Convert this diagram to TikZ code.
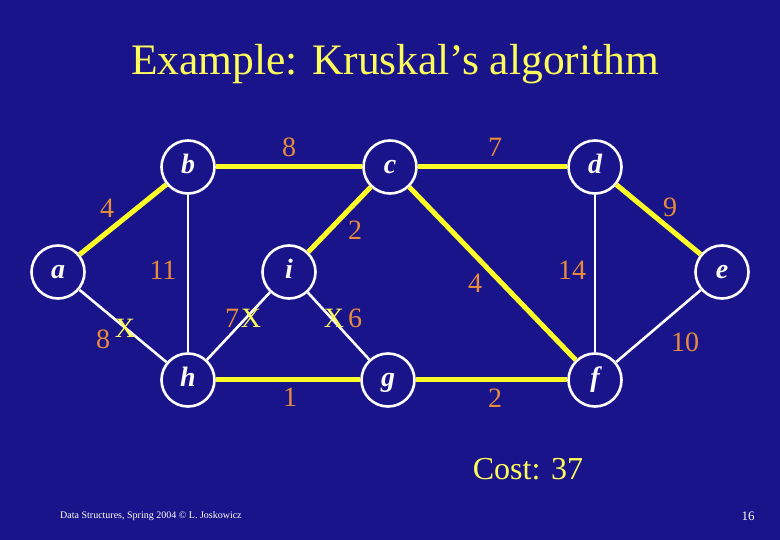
\documentclass[tikz,border=0pt]{standalone}
\usepackage{fontspec}
\setmainfont{Liberation Serif}
\usepackage{tikz}
\definecolor{slidebg}{RGB}{26,20,138}
\definecolor{wtorange}{RGB}{232,140,60}
\definecolor{mstyellow}{RGB}{255,255,40}
\definecolor{txtyellow}{RGB}{255,255,90}

\begin{document}
\begin{tikzpicture}[
    x=1pt, y=-1pt,
    vtx/.style={draw=white, line width=2.6pt, circle, minimum size=53pt, inner sep=0pt, text=white,
        font=\fontsize{28}{28}\selectfont\bfseries\itshape, text height=18pt, text depth=5pt},
    wt/.style={text=wtorange, inner sep=0pt, font=\fontsize{28}{28}\selectfont},
    cross/.style={text=txtyellow, inner sep=0pt, font=\fontsize{28}{28}\selectfont},
    mst/.style={mstyellow, line width=5pt},
    edge/.style={white, line width=2.6pt}
]
% Slide
\fill[slidebg] (0,0) rectangle (780,540);
\useasboundingbox (0,0) rectangle (780,540);
\node[text=txtyellow, font=\fontsize{43.5}{46}\selectfont] (title) at (395,64) {Example: Kruskal's algorithm};

% Vertices
\node[vtx] (a) at (58,272) {a};
\node[vtx] (b) at (188,167) {b};
\node[vtx] (c) at (390,167) {c};
\node[vtx] (d) at (595,167) {d};
\node[vtx] (e) at (722,272) {e};
\node[vtx] (i) at (289,272) {i};
\node[vtx] (h) at (188,380) {h};
\node[vtx] (g) at (388,380) {g};
\node[vtx] (f) at (595,380) {f};

% Tree edges
\draw[mst] (a) -- (b);
\draw[mst] (b) -- (c);
\draw[mst] (c) -- (d);
\draw[mst] (c) -- (i);
\draw[mst] (c) -- (f);
\draw[mst] (d) -- (e);
\draw[mst] (h) -- (g);
\draw[mst] (g) -- (f);

% Other edges
\draw[edge] (a) -- (h);
\draw[edge] (b) -- (h);
\draw[edge] (i) -- (h);
\draw[edge] (i) -- (g);
\draw[edge] (d) -- (f);
\draw[edge] (e) -- (f);

% Weights
\node[wt] (wab) at (107,208) {4};
\node[wt] (wbc) at (289,147) {8};
\node[wt] (wcd) at (495,147) {7};
\node[wt] (wci) at (355,230) {2};
\node[wt] (wbh) at (163,270) {11};
\node[wt] (wah) at (103,339) {8};
\node[cross] (xah) at (125,328) {X};
\node[wt] (whi) at (232,318) {7};
\node[cross] (xhi) at (251,318) {X};
\node[cross] (xig) at (334,318) {X};
\node[wt] (wig) at (355,318) {6};
\node[wt] (whg) at (290,397) {1};
\node[wt] (wde) at (670,207) {9};
\node[wt] (wdf) at (572,270) {14};
\node[wt] (wcf) at (475,283) {4};
\node[wt] (wef) at (685,342) {10};
\node[wt] (wgf) at (495,398) {2};

% Footer
\node[text=txtyellow, font=\fontsize{32}{36}\selectfont] (cost) at (528,469) {Cost: 37};
\node[text=white, anchor=west, inner sep=0pt, font=\fontsize{10}{12}\selectfont] (credit) at (60,516) {Data Structures, Spring 2004 © L. Joskowicz};
\node[text=white, inner sep=0pt, font=\fontsize{13}{14}\selectfont] (page) at (748,516) {16};
\end{tikzpicture}
\end{document}
